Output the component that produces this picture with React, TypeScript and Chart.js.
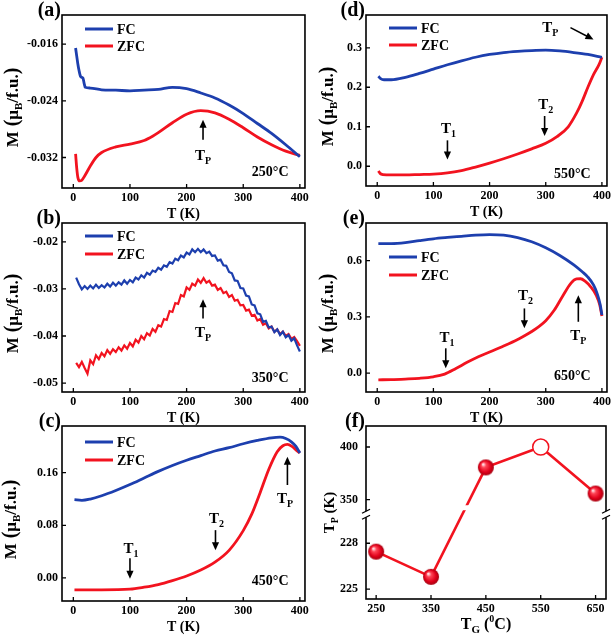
import React, { useEffect, useRef } from 'react';
import { Chart, registerables, LinearScale } from 'chart.js';

Chart.register(...registerables);

const FONT = '"Liberation Serif", "Times New Roman", "DejaVu Serif", serif';
const BLUE = '#1d3fae';
const RED = '#f2131f';
const INK = '#000000';

const X_TICKS = [0, 100, 200, 300, 400];

// ---------- (a) 250 °C ----------
const A_Y_TICKS = [-0.032, -0.024, -0.016];
const A_FC_T = [4, 6, 8, 10, 13, 17, 19, 21, 30, 50, 75, 100, 125, 150, 175, 200, 225, 250, 275, 300, 325, 350, 375, 400];
const A_FC_M = [-0.01656, -0.0177, -0.0188, -0.0197, -0.0206, -0.0208, -0.0215, -0.0221, -0.0222, -0.02245, -0.0225, -0.0226, -0.0225, -0.0224, -0.0221, -0.0223, -0.0229, -0.0236, -0.0246, -0.0258, -0.0272, -0.0286, -0.0302, -0.0319];
const A_ZFC_T = [4, 6, 8, 11, 15, 20, 30, 40, 50, 75, 100, 125, 140, 150, 175, 200, 225, 250, 275, 300, 325, 350, 375, 400];
const A_ZFC_M = [-0.0315, -0.0335, -0.0348, -0.0353, -0.0352, -0.0346, -0.0332, -0.032, -0.0313, -0.0305, -0.0301, -0.0296, -0.029, -0.0285, -0.0271, -0.0259, -0.0254, -0.0257, -0.0266, -0.0278, -0.0291, -0.0302, -0.0311, -0.0317];

// ---------- (b) 350 °C ----------
const B_Y_TICKS = [-0.05, -0.04, -0.03, -0.02];
const B_T = [
  5, 10, 15, 20, 25, 30, 35, 40, 45, 50,
  55, 60, 65, 70, 75, 80, 85, 90, 95, 100,
  105, 110, 115, 120, 125, 130, 135, 140, 145, 150,
  155, 160, 165, 170, 175, 180, 185, 190, 195, 200,
  205, 210, 215, 220, 225, 230, 235, 240, 245, 250,
  255, 260, 265, 270, 275, 280, 285, 290, 295, 300,
  305, 310, 315, 320, 325, 330, 335, 340, 345, 350,
  355, 360, 365, 370, 375, 380, 385, 390, 395, 400,
];
const B_FC_M = [
  -0.0276, -0.029, -0.0301, -0.0294, -0.03, -0.0293, -0.0299, -0.0291, -0.0298, -0.0292,
  -0.0297, -0.0289, -0.0295, -0.0287, -0.0293, -0.0286, -0.0291, -0.0282, -0.0289, -0.0281,
  -0.0286, -0.0276, -0.028, -0.0271, -0.0276, -0.0266, -0.027, -0.0261, -0.0264, -0.0255,
  -0.0259, -0.025, -0.0253, -0.0243, -0.0246, -0.0236, -0.0239, -0.0229, -0.0233, -0.0223,
  -0.0227, -0.0216, -0.0222, -0.0215, -0.0222, -0.0216, -0.0224, -0.0221, -0.023, -0.0229,
  -0.024, -0.0238, -0.025, -0.0251, -0.0264, -0.0267, -0.0282, -0.0283, -0.0298, -0.0299,
  -0.0314, -0.0316, -0.0333, -0.0335, -0.0352, -0.0354, -0.037, -0.0368, -0.0382, -0.038,
  -0.0392, -0.0386, -0.0398, -0.0391, -0.0403, -0.0398, -0.041, -0.0405, -0.042, -0.0433,
];
const B_ZFC_M = [
  -0.0457, -0.0466, -0.0455, -0.0468, -0.048, -0.0452, -0.046, -0.0441, -0.0449, -0.0436,
  -0.0443, -0.043, -0.0438, -0.0428, -0.0434, -0.0424, -0.0431, -0.042, -0.0427, -0.0415,
  -0.0422, -0.0408, -0.0414, -0.04, -0.0407, -0.0394, -0.0399, -0.0385, -0.0391, -0.0377,
  -0.038, -0.0364, -0.0366, -0.0347, -0.0349, -0.033, -0.0332, -0.0313, -0.0316, -0.0297,
  -0.0302, -0.0289, -0.0293, -0.028, -0.0287, -0.0277, -0.0287, -0.0283, -0.0293, -0.0291,
  -0.0302, -0.0298, -0.0309, -0.0306, -0.0317, -0.0313, -0.0325, -0.0323, -0.0335, -0.0334,
  -0.0346, -0.0344, -0.0357, -0.0355, -0.0367, -0.0364, -0.0376, -0.0373, -0.0384, -0.038,
  -0.0391, -0.0386, -0.0396, -0.0391, -0.04, -0.0396, -0.0406, -0.0402, -0.0411, -0.0421,
];

// ---------- (c) 450 °C ----------
const C_Y_TICKS = [0, 0.08, 0.16];
const C_FC_T = [2, 15, 30, 50, 75, 100, 125, 150, 175, 200, 225, 250, 275, 300, 325, 350, 365, 375, 385, 393, 400];
const C_FC_M = [0.119, 0.118, 0.12, 0.125, 0.133, 0.142, 0.152, 0.162, 0.171, 0.179, 0.186, 0.193, 0.198, 0.204, 0.209, 0.213, 0.214, 0.212, 0.207, 0.2, 0.19];
const C_ZFC_T = [2, 50, 100, 125, 150, 175, 200, 225, 250, 275, 300, 315, 330, 345, 360, 370, 378, 386, 394, 400];
const C_ZFC_M = [-0.018, -0.018, -0.017, -0.014, -0.01, -0.004, 0.003, 0.012, 0.024, 0.042, 0.072, 0.097, 0.13, 0.165, 0.192, 0.201, 0.203, 0.2, 0.194, 0.19];

// ---------- (d) 550 °C ----------
const D_Y_TICKS = [0, 0.1, 0.2, 0.3];
const D_FC_T = [2, 6, 12, 25, 50, 75, 100, 125, 150, 175, 200, 225, 250, 275, 300, 325, 350, 375, 400];
const D_FC_M = [0.228, 0.222, 0.219, 0.219, 0.225, 0.235, 0.246, 0.257, 0.267, 0.276, 0.283, 0.288, 0.291, 0.293, 0.294, 0.292, 0.288, 0.283, 0.276];
const D_ZFC_T = [2, 5, 10, 25, 50, 75, 100, 125, 150, 175, 200, 225, 250, 275, 300, 320, 340, 355, 365, 375, 385, 395, 400];
const D_ZFC_M = [-0.012, -0.018, -0.021, -0.022, -0.022, -0.021, -0.02, -0.017, -0.011, -0.002, 0.008, 0.019, 0.031, 0.044, 0.058, 0.075, 0.1, 0.135, 0.165, 0.2, 0.232, 0.258, 0.276];

// ---------- (e) 650 °C ----------
const E_Y_TICKS = [0, 0.3, 0.6];
const E_FC_T = [2, 25, 50, 75, 100, 125, 150, 175, 200, 225, 250, 275, 300, 325, 350, 365, 375, 385, 392, 397, 400];
const E_FC_M = [0.69, 0.69, 0.695, 0.706, 0.716, 0.723, 0.729, 0.735, 0.738, 0.735, 0.722, 0.7, 0.668, 0.627, 0.577, 0.54, 0.512, 0.47, 0.42, 0.365, 0.31];
const E_ZFC_T = [2, 25, 50, 75, 100, 120, 140, 160, 180, 200, 225, 250, 275, 300, 315, 330, 345, 355, 362, 370, 380, 390, 396, 400];
const E_ZFC_M = [-0.035, -0.034, -0.031, -0.027, -0.019, -0.005, 0.025, 0.058, 0.088, 0.113, 0.145, 0.18, 0.222, 0.28, 0.335, 0.41, 0.48, 0.502, 0.503, 0.49, 0.46, 0.415, 0.365, 0.305];

// ---------- (f) Tp vs TG ----------
const F_TG = [250, 350, 450, 550, 650];
const F_TP = [227.45, 225.8, 380.6, 400, 355.7];
const F_OPEN = [false, false, false, true, false];
const F_X_TICKS = [250, 350, 450, 550, 650];
const F_Y_TICKS = [225, 228, 350, 400];

// broken y axis: two linear segments sharing the axis length
const F_SEGMENTS = [
  { from: 224.35, to: 229.9, start: 0, end: 0.49 },
  { from: 336, to: 420, start: 0.49, end: 1 },
];
const F_BREAK_DEC = 0.49;

function brokenDecimal(v: number) {
  const lo = F_SEGMENTS[0], hi = F_SEGMENTS[1];
  if (v <= lo.to) return lo.start + ((v - lo.from) / (lo.to - lo.from)) * (lo.end - lo.start);
  if (v >= hi.from) return hi.start + ((v - hi.from) / (hi.to - hi.from)) * (hi.end - hi.start);
  return lo.end;
}

class BrokenLinearScale extends LinearScale {
  static id = 'brokenLinear';
  static defaults = {};
  buildTicks() {
    return F_Y_TICKS.map((v) => ({ value: v }));
  }
  getPixelForValue(value: any) {
    if (value === null || value === undefined || isNaN(value)) return NaN;
    return (this as any).getPixelForDecimal(brokenDecimal(Number(value)));
  }
  getValueForPixel(pixel: number) {
    const d = (this as any).getDecimalForPixel(pixel);
    const lo = F_SEGMENTS[0], hi = F_SEGMENTS[1];
    if (d <= lo.end) return lo.from + ((d - lo.start) / (lo.end - lo.start)) * (lo.to - lo.from);
    return hi.from + ((d - hi.start) / (hi.end - hi.start)) * (hi.to - hi.from);
  }
}
Chart.register(BrokenLinearScale as any);

type Part = { t: string; size: number; dy?: number };

function drawParts(ctx: CanvasRenderingContext2D, parts: Part[], x: number, y: number, align: string, rotate = false) {
  ctx.save();
  ctx.translate(x, y);
  if (rotate) ctx.rotate(-Math.PI / 2);
  ctx.fillStyle = INK;
  ctx.textBaseline = 'alphabetic';
  ctx.textAlign = 'left';
  const widths = parts.map((p) => {
    ctx.font = `bold ${p.size}px ${FONT}`;
    return ctx.measureText(p.t).width;
  });
  const total = widths.reduce((a, b) => a + b, 0);
  let cx = align === 'center' ? -total / 2 : align === 'right' ? -total : 0;
  const base = parts[0].size * 0.34;
  parts.forEach((p, i) => {
    ctx.font = `bold ${p.size}px ${FONT}`;
    ctx.fillText(p.t, cx, base + (p.dy || 0));
    cx += widths[i];
  });
  ctx.restore();
}

function strokeLine(ctx: CanvasRenderingContext2D, x1: number, y1: number, x2: number, y2: number, w: number, color = INK) {
  ctx.save();
  ctx.strokeStyle = color;
  ctx.lineWidth = w;
  ctx.beginPath();
  ctx.moveTo(x1, y1);
  ctx.lineTo(x2, y2);
  ctx.stroke();
  ctx.restore();
}

function drawArrow(ctx: CanvasRenderingContext2D, x1: number, y1: number, x2: number, y2: number) {
  const ang = Math.atan2(y2 - y1, x2 - x1);
  const c = Math.cos(ang), s = Math.sin(ang);
  const head = 8, hw = 3.6;
  strokeLine(ctx, x1, y1, x2 - c * head * 0.7, y2 - s * head * 0.7, 1.6);
  ctx.save();
  ctx.fillStyle = INK;
  ctx.beginPath();
  ctx.moveTo(x2, y2);
  ctx.lineTo(x2 - head * c + hw * s, y2 - head * s - hw * c);
  ctx.lineTo(x2 - head * c - hw * s, y2 - head * s + hw * c);
  ctx.closePath();
  ctx.fill();
  ctx.restore();
}

const tLabel = (sub: string): Part[] => [{ t: 'T', size: 15 }, { t: sub, size: 10, dy: 4 }];
const tempLabel = (s: string): Part[] => [{ t: s, size: 14 }];
const M_TITLE: Part[] = [
  { t: 'M', size: 17 },
  { t: ' (', size: 20 },
  { t: 'μ', size: 17 },
  { t: 'B', size: 11, dy: 4 },
  { t: '/f.u.', size: 17 },
  { t: ')', size: 20 },
];
const TK_TITLE: Part[] = [{ t: 'T (K)', size: 14 }];
const TP_TITLE: Part[] = [{ t: 'T', size: 15 }, { t: 'P', size: 10, dy: 4 }, { t: ' (K)', size: 15 }];
const TG_TITLE: Part[] = [
  { t: 'T', size: 16 },
  { t: 'G', size: 11, dy: 4 },
  { t: ' (', size: 16 },
  { t: '0', size: 10, dy: -7 },
  { t: 'C)', size: 16 },
];

const curves = (fcT: number[], fcM: number[], zT: number[], zM: number[]) => [
  { label: 'FC', t: fcT, m: fcM, color: BLUE },
  { label: 'ZFC', t: zT, m: zM, color: RED },
];

const PANELS: any[] = [
  {
    letter: '(a)', box: { L: 62, R: 306, T: 15, B: 188 }, canvasLeft: 0, canvasW: 312,
    x: { min: -20, max: 409, ticks: X_TICKS, dec: 0 },
    y: { min: -0.0363, max: -0.0119, ticks: A_Y_TICKS, dec: 3, pad: 4 },
    series: curves(A_FC_T, A_FC_M, A_ZFC_T, A_ZFC_M), noisy: false,
    legendDy: [14, 31], yTitle: M_TITLE, yTitleOff: 50, yTitleShift: 6, xTitle: TK_TITLE,
    notes: [
      { kind: 'arrow', x1: 229, y1: -0.0295, x2: 229, y2: -0.02668 },
      { kind: 'text', x: 229, y: -0.03162, parts: tLabel('P'), align: 'center' },
      { kind: 'text', x: 380, y: -0.034, parts: tempLabel('250°C'), align: 'right' },
    ],
  },
  {
    letter: '(b)', box: { L: 62, R: 306, T: 223, B: 392 }, canvasLeft: 0, canvasW: 312,
    x: { min: -20, max: 409, ticks: X_TICKS, dec: 0 },
    y: { min: -0.0519, max: -0.016, ticks: B_Y_TICKS, dec: 2, pad: 4 },
    series: curves(B_T, B_FC_M, B_T, B_ZFC_M), noisy: true,
    legendDy: [13, 31], yTitle: M_TITLE, yTitleOff: 50, yTitleShift: 6, xTitle: TK_TITLE,
    notes: [
      { kind: 'arrow', x1: 229, y1: -0.0363, x2: 229, y2: -0.0322 },
      { kind: 'text', x: 229, y: -0.03915, parts: tLabel('P'), align: 'center' },
      { kind: 'text', x: 380, y: -0.0487, parts: tempLabel('350°C'), align: 'right' },
    ],
  },
  {
    letter: '(c)', box: { L: 62, R: 306, T: 426, B: 601 }, canvasLeft: 0, canvasW: 312,
    x: { min: -20, max: 409, ticks: X_TICKS, dec: 0 },
    y: { min: -0.035, max: 0.231, ticks: C_Y_TICKS, dec: 2, pad: 4 },
    series: curves(C_FC_T, C_FC_M, C_ZFC_T, C_ZFC_M), noisy: false,
    legendDy: [16, 34], yTitle: M_TITLE, yTitleOff: 52, yTitleShift: 6, xTitle: TK_TITLE,
    notes: [
      { kind: 'arrow', x1: 100, y1: 0.03, x2: 100, y2: -0.001 },
      { kind: 'text', x: 102, y: 0.0457, parts: tLabel('1'), align: 'center' },
      { kind: 'arrow', x1: 251, y1: 0.0727, x2: 251, y2: 0.0422 },
      { kind: 'text', x: 253, y: 0.091, parts: tLabel('2'), align: 'center' },
      { kind: 'arrow', x1: 378, y1: 0.1413, x2: 378, y2: 0.1844 },
      { kind: 'text', x: 374, y: 0.1215, parts: tLabel('P'), align: 'center' },
      { kind: 'text', x: 380, y: -0.0035, parts: tempLabel('450°C'), align: 'right' },
    ],
  },
  {
    letter: '(d)', box: { L: 366, R: 610, T: 15, B: 186 }, canvasLeft: 304, canvasW: 310,
    x: { min: -20, max: 409, ticks: X_TICKS, dec: 0 },
    y: { min: -0.05, max: 0.383, ticks: D_Y_TICKS, dec: 1, pad: 4 },
    series: curves(D_FC_T, D_FC_M, D_ZFC_T, D_ZFC_M), noisy: false,
    legendDy: [13, 30], yTitle: M_TITLE, yTitleOff: 39, yTitleShift: 6, xTitle: TK_TITLE,
    notes: [
      { kind: 'arrow', x1: 125, y1: 0.0656, x2: 125, y2: 0.0173 },
      { kind: 'text', x: 127, y: 0.0968, parts: tLabel('1'), align: 'center' },
      { kind: 'arrow', x1: 298, y1: 0.1273, x2: 298, y2: 0.0765 },
      { kind: 'text', x: 300, y: 0.157, parts: tLabel('2'), align: 'center' },
      { kind: 'text', x: 308, y: 0.353, parts: tLabel('P'), align: 'center' },
      { kind: 'arrow', x1: 344, y1: 0.351, x2: 385, y2: 0.321 },
      { kind: 'text', x: 380, y: -0.0165, parts: tempLabel('550°C'), align: 'right' },
    ],
  },
  {
    letter: '(e)', box: { L: 366, R: 610, T: 223, B: 392 }, canvasLeft: 304, canvasW: 310,
    x: { min: -20, max: 409, ticks: X_TICKS, dec: 0 },
    y: { min: -0.1, max: 0.8, ticks: E_Y_TICKS, dec: 1, pad: 4 },
    series: curves(E_FC_T, E_FC_M, E_ZFC_T, E_ZFC_M), noisy: false,
    legendDy: [34, 52], yTitle: M_TITLE, yTitleOff: 39, yTitleShift: 6, xTitle: TK_TITLE,
    notes: [
      { kind: 'arrow', x1: 122, y1: 0.1327, x2: 122, y2: 0.0265 },
      { kind: 'text', x: 124, y: 0.1943, parts: tLabel('1'), align: 'center' },
      { kind: 'arrow', x1: 262, y1: 0.345, x2: 262, y2: 0.239 },
      { kind: 'text', x: 264, y: 0.4195, parts: tLabel('2'), align: 'center' },
      { kind: 'arrow', x1: 358, y1: 0.274, x2: 358, y2: 0.4157 },
      { kind: 'text', x: 358, y: 0.2034, parts: tLabel('P'), align: 'center' },
      { kind: 'text', x: 380, y: -0.0128, parts: tempLabel('650°C'), align: 'right' },
    ],
  },
  {
    letter: '(f)', box: { L: 366, R: 609, T: 426, B: 599 }, canvasLeft: 304, canvasW: 310,
    x: { min: 231.5, max: 669, ticks: F_X_TICKS, dec: 0 },
    y: { min: 224.35, max: 420, ticks: F_Y_TICKS, dec: 0, pad: 8, broken: true },
    series: null, noisy: false,
    legendDy: null, yTitle: TP_TITLE, yTitleOff: 37, yTitleShift: 0, xTitle: TG_TITLE,
    notes: [],
  },
];

function makeSphere(r: number) {
  const c = document.createElement('canvas');
  const s = Math.ceil(r * 2) + 2;
  c.width = s;
  c.height = s;
  const g = c.getContext('2d')!;
  const cx = s / 2, cy = s / 2;
  const grad = g.createRadialGradient(cx - r * 0.35, cy - r * 0.4, r * 0.08, cx, cy, r);
  grad.addColorStop(0, '#ffe0e4');
  grad.addColorStop(0.25, '#ff4556');
  grad.addColorStop(0.7, '#e0001a');
  grad.addColorStop(1, '#a5000f');
  g.fillStyle = grad;
  g.beginPath();
  g.arc(cx, cy, r, 0, Math.PI * 2);
  g.fill();
  return c;
}

function makeDecor(p: any) {
  return {
    id: 'panelDecor',
    afterDraw(chart: any) {
      const ctx: CanvasRenderingContext2D = chart.ctx;
      const { left, right, top, bottom } = chart.chartArea;
      const xs = chart.scales.x, ys = chart.scales.y;
      const X = (v: number) => xs.getPixelForValue(v);
      const Y = (v: number) => ys.getPixelForValue(v);
      let bp = 0;
      if (p.y.broken) {
        bp = ys.getPixelForDecimal(F_BREAK_DEC);
        ctx.save();
        ctx.fillStyle = '#ffffff';
        ctx.fillRect(left + 2, bp - 9, right - left - 4, 5);
        ctx.restore();
      }
      // frame: four sides of the plot area
      ctx.save();
      ctx.strokeStyle = INK;
      ctx.lineWidth = 1.6;
      ctx.strokeRect(left, top, right - left, bottom - top);
      // inward tick marks on bottom and left axes
      ctx.lineWidth = 1.3;
      ctx.beginPath();
      xs.ticks.forEach((t: any) => { const px = X(t.value); ctx.moveTo(px, bottom); ctx.lineTo(px, bottom - 4); });
      ys.ticks.forEach((t: any) => { const py = Y(t.value); ctx.moveTo(left, py); ctx.lineTo(left + 4, py); });
      ctx.stroke();
      ctx.restore();
      if (p.y.broken) {
        [left, right].forEach((ax) => {
          ctx.save();
          ctx.fillStyle = '#ffffff';
          ctx.fillRect(ax - 2, bp - 3, 4, 6);
          ctx.restore();
          strokeLine(ctx, ax - 4, bp - 1, ax + 4, bp - 5, 1.3);
          strokeLine(ctx, ax - 4, bp + 5, ax + 4, bp + 1, 1.3);
        });
      }
      // panel letter
      drawParts(ctx, [{ t: p.letter, size: 20 }], left - 1, top - 6, 'right');
      // legend
      if (p.legendDy) {
        chart.data.datasets.forEach((ds: any, i: number) => {
          const ly = top + p.legendDy[i];
          strokeLine(ctx, left + 23, ly, left + 51, ly, 3, ds.borderColor);
          drawParts(ctx, [{ t: ds.label, size: 14 }], left + 55, ly, 'left');
        });
      }
      // annotations
      p.notes.forEach((n: any) => {
        if (n.kind === 'arrow') drawArrow(ctx, X(n.x1), Y(n.y1), X(n.x2), Y(n.y2));
        else drawParts(ctx, n.parts, X(n.x), Y(n.y), n.align);
      });
      // axis titles
      drawParts(ctx, p.xTitle, (left + right) / 2, bottom + 25, 'center');
      drawParts(ctx, p.yTitle, left - p.yTitleOff, (top + bottom) / 2 + p.yTitleShift, 'center', true);
    },
  };
}

function buildConfig(p: any, canvasTop: number) {
  const tickFont = { family: FONT, size: 12, weight: 'bold' as const };
  let datasets: any[];
  if (p.series) {
    datasets = p.series.map((s: any) => ({
      label: s.label,
      data: s.t.map((t: number, i: number) => ({ x: t, y: s.m[i] })),
      borderColor: s.color,
      backgroundColor: s.color,
      borderWidth: p.noisy ? 2.2 : 2.8,
      pointRadius: 0,
      tension: p.noisy ? 0 : 0.4,
      cubicInterpolationMode: p.noisy ? 'default' : 'monotone',
      fill: false,
    }));
  } else {
    const sphere = makeSphere(8);
    datasets = [
      {
        label: 'TP',
        data: F_TG.map((t, i) => ({ x: t, y: F_TP[i] })),
        borderColor: RED,
        borderWidth: 2.6,
        tension: 0,
        fill: false,
        pointRadius: 8,
        pointStyle: (c: any) => (F_OPEN[c.dataIndex] ? 'circle' : sphere),
        pointBackgroundColor: (c: any) => (F_OPEN[c.dataIndex] ? '#ffffff' : RED),
        pointBorderColor: RED,
        pointBorderWidth: (c: any) => (F_OPEN[c.dataIndex] ? 1.5 : 0),
        clip: false,
      },
    ];
  }
  return {
    type: 'line',
    data: { datasets },
    options: {
      animation: false,
      responsive: false,
      events: [],
      layout: { padding: { top: p.box.T - canvasTop, right: p.canvasLeft + p.canvasW - p.box.R, left: 0, bottom: 0 } },
      plugins: { legend: { display: false }, tooltip: { enabled: false } },
      scales: {
        x: {
          type: 'linear',
          min: p.x.min,
          max: p.x.max,
          afterBuildTicks: (s: any) => { s.ticks = p.x.ticks.map((v: number) => ({ value: v })); },
          afterFit: (s: any) => { s.height = 36; },
          grid: { display: false, drawTicks: false },
          border: { display: false },
          ticks: { font: tickFont, color: INK, padding: 3, maxRotation: 0, minRotation: 0, autoSkip: false,
            callback: (v: any) => Number(v).toFixed(p.x.dec) },
        },
        y: {
          type: p.y.broken ? 'brokenLinear' : 'linear',
          min: p.y.min,
          max: p.y.max,
          afterBuildTicks: (s: any) => { s.ticks = p.y.ticks.map((v: number) => ({ value: v })); },
          afterFit: (s: any) => { s.width = p.box.L - p.canvasLeft; },
          grid: { display: false, drawTicks: false },
          border: { display: false },
          ticks: { font: tickFont, color: INK, padding: p.y.pad, autoSkip: false,
            callback: (v: any) => Number(v).toFixed(p.y.dec) },
        },
      },
    },
    plugins: [makeDecor(p)],
  } as any;
}

function Panel({ p }: { p: any }) {
  const ref = useRef<HTMLCanvasElement>(null);
  const top = p.box.T - 20;
  const h = p.box.B + 36 - top;
  useEffect(() => {
    const chart = new Chart(ref.current as HTMLCanvasElement, buildConfig(p, top));
    return () => chart.destroy();
  }, []);
  return (
    <canvas
      ref={ref}
      width={p.canvasW}
      height={h}
      style={{ position: 'absolute', left: p.canvasLeft, top, width: p.canvasW, height: h }}
    />
  );
}

export default function App() {
  return (
    <div style={{ position: 'absolute', left: 0, top: 0, width: 614, height: 637, overflow: 'hidden', background: '#ffffff' }}>
      {PANELS.map((p, i) => (
        <Panel key={i} p={p} />
      ))}
    </div>
  );
}
